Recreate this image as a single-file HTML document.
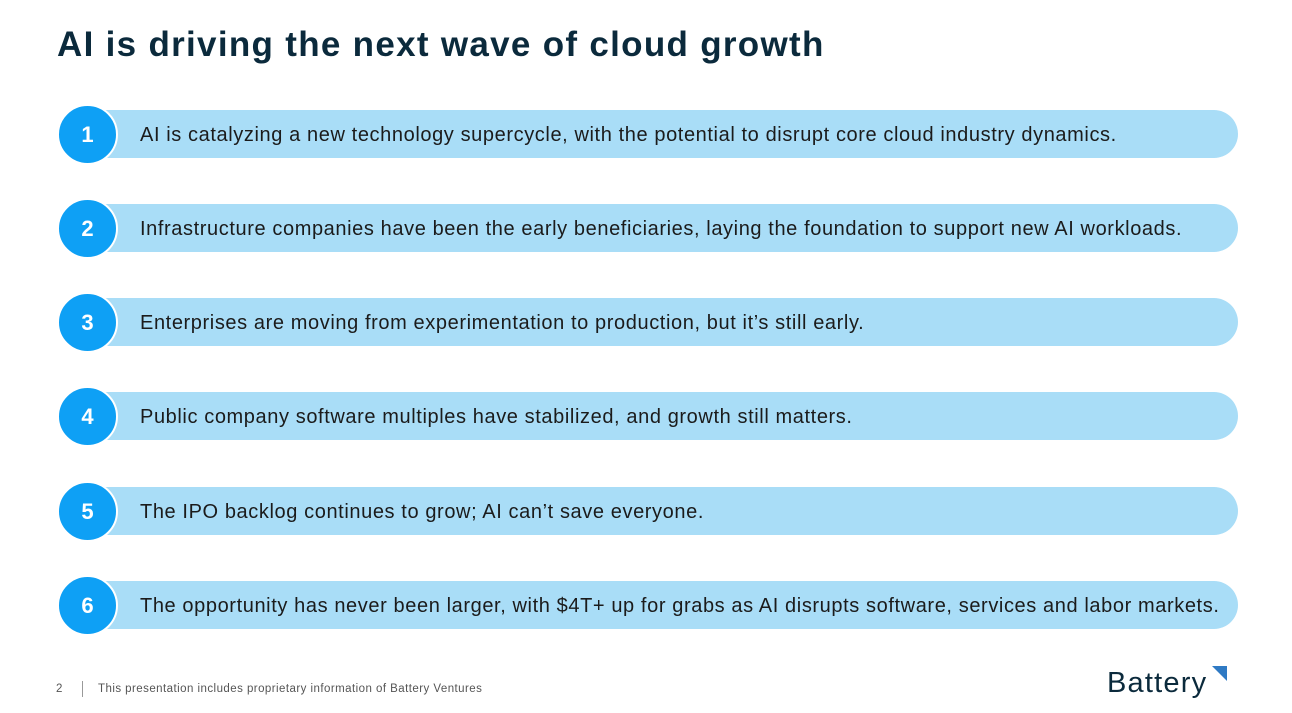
<!DOCTYPE html>
<html><head><meta charset="utf-8"><style>
body{margin:0;width:1292px;height:713px;background:#fff;position:relative;overflow:hidden;font-family:"Liberation Sans",sans-serif}
h1{position:absolute;left:57px;top:25px;margin:0;font-size:35px;font-weight:bold;color:#0b2a3c;letter-spacing:1.3px}
.row{position:absolute;left:0;width:1292px;height:60px}
.bar{position:absolute;left:104px;top:6px;width:1134px;height:48px;background:#a9ddf7;border-radius:0 24px 24px 0}
.num{position:absolute;left:57px;top:0;width:57px;height:57px;border-radius:50%;background:#0ea0f5;border:2px solid #fff;color:#fff;font-weight:bold;font-size:22px;line-height:58px;text-align:center}
.txt{position:absolute;left:140px;top:7px;line-height:48px;font-size:20px;letter-spacing:0.6px;color:#1b1b1b;white-space:nowrap}
.foot{position:absolute;top:683px;font-size:11.5px;letter-spacing:0.45px;color:#555}
</style></head><body>
<h1>AI is driving the next wave of cloud growth</h1>
<div class="row" style="top:104px"><div class="bar"></div><div class="num">1</div><div class="txt">AI is catalyzing a new technology supercycle, with the potential to disrupt core cloud industry dynamics.</div></div>
<div class="row" style="top:198px"><div class="bar"></div><div class="num">2</div><div class="txt">Infrastructure companies have been the early beneficiaries, laying the foundation to support new AI workloads.</div></div>
<div class="row" style="top:292px"><div class="bar"></div><div class="num">3</div><div class="txt">Enterprises are moving from experimentation to production, but it’s still early.</div></div>
<div class="row" style="top:386px"><div class="bar"></div><div class="num">4</div><div class="txt">Public company software multiples have stabilized, and growth still matters.</div></div>
<div class="row" style="top:481px"><div class="bar"></div><div class="num">5</div><div class="txt">The IPO backlog continues to grow; AI can’t save everyone.</div></div>
<div class="row" style="top:575px"><div class="bar"></div><div class="num">6</div><div class="txt">The opportunity has never been larger, with $4T+ up for grabs as AI disrupts software, services and labor markets.</div></div>
<div class="foot" style="left:56px">2</div>
<div style="position:absolute;left:82px;top:681px;width:1px;height:16px;background:#999"></div>
<div class="foot" style="left:98px">This presentation includes proprietary information of Battery Ventures</div>
<div style="position:absolute;left:1107px;top:667px;font-size:29px;color:#0b2a3c;letter-spacing:1.2px">Battery</div>
<div style="position:absolute;left:1212px;top:666px;width:0;height:0;border-top:15px solid #2f7ac4;border-left:15px solid transparent"></div>
</body></html>
